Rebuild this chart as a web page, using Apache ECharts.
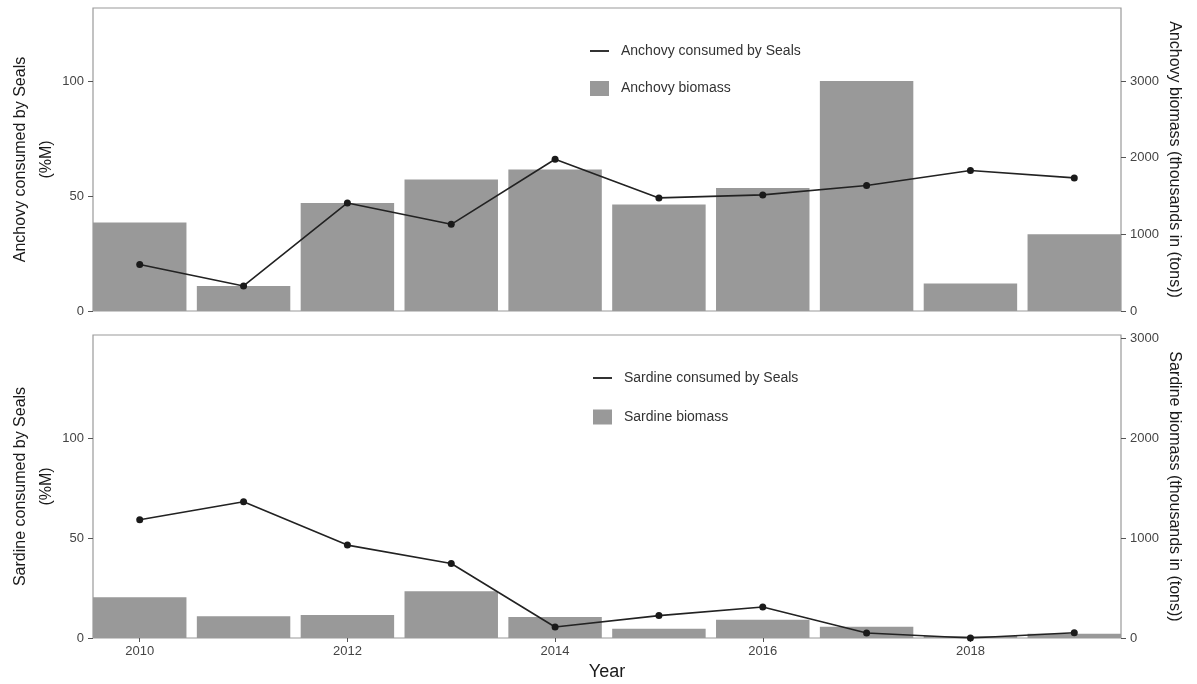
<!DOCTYPE html>
<html>
<head>
<meta charset="utf-8">
<title>Anchovy and sardine: biomass and consumption by seals</title>
<script src="https://cdn.jsdelivr.net/npm/echarts@6/dist/echarts.min.js"></script>
<style>
  html, body { margin: 0; padding: 0; background: #ffffff; }
  #chart { width: 1197px; height: 684px; }
</style>
</head>
<body>
<div id="chart"></div>
<script>
// Years on the shared x axis
const years = [2010, 2011, 2012, 2013, 2014, 2015, 2016, 2017, 2018, 2019];
const yearTicks = [2010, 2012, 2014, 2016, 2018];

// Anchovy: share consumed by seals (%M) and biomass (thousands of tons)
const anchovyConsumed = [20.2, 10.9, 47.0, 37.7, 66.0, 49.2, 50.5, 54.6, 61.1, 57.9];
const anchovyBiomass = [1155, 326, 1410, 1716, 1846, 1390, 1606, 3000, 358, 1000];

// Sardine: share consumed by seals (%M) and biomass (thousands of tons)
const sardineConsumed = [59.2, 68.2, 46.5, 37.3, 5.5, 11.2, 15.5, 2.5, 0, 2.6];
const sardineBiomass = [407, 217, 230, 467, 210, 93, 183, 113, 20, 43];

// Tick labels
const pctTicks = [0, 50, 100];
const biomassTicks = [0, 1000, 2000, 3000];

const FONT = '"Liberation Sans", Arial, Helvetica, sans-serif';
const BAR_COLOR = '#999999';
const LINE_COLOR = '#1a1a1a';
const LABEL_COLOR = '#444444';
const TITLE_COLOR = '#1a1a1a';

const pairs = (xs, ys) => xs.map((x, i) => [x, ys[i]]);
const plain = (v) => String(Math.round(v));

function xAxisFor(gridIndex, showLabels) {
  return {
    type: 'value',
    gridIndex: gridIndex,
    min: 2009.55,
    max: 2019.45,
    splitLine: { show: false },
    axisLine: { show: false },
    axisTick: {
      show: showLabels,
      length: 4,
      customValues: yearTicks,
      lineStyle: { color: '#555555', width: 1 }
    },
    axisLabel: {
      show: showLabels,
      customValues: yearTicks,
      formatter: plain,
      margin: 7,
      color: LABEL_COLOR,
      fontFamily: FONT,
      fontSize: 13
    },
    name: showLabels ? 'Year' : '',
    nameLocation: 'middle',
    nameGap: 25,
    nameMoveOverlap: false,
    nameTextStyle: { color: TITLE_COLOR, fontFamily: FONT, fontSize: 18 }
  };
}

function yAxisFor(gridIndex, side, max, ticks, name) {
  const left = side === 'left';
  return {
    type: 'value',
    gridIndex: gridIndex,
    position: side,
    min: 0,
    max: max,
    splitLine: { show: false },
    axisLine: { show: false },
    axisTick: {
      show: true,
      length: 5,
      customValues: ticks,
      lineStyle: { color: '#555555', width: 1 }
    },
    axisLabel: {
      customValues: ticks,
      formatter: plain,
      margin: 9,
      color: LABEL_COLOR,
      fontFamily: FONT,
      fontSize: 13
    },
    name: name,
    nameLocation: 'middle',
    nameRotate: left ? 90 : -90,
    nameGap: left ? 33 : 40,
    nameMoveOverlap: false,
    nameTextStyle: {
      color: TITLE_COLOR,
      fontFamily: FONT,
      fontSize: 16,
      lineHeight: 26,
      align: 'center'
    }
  };
}

function legendFor(top, left, lineName, barName, gap) {
  return {
    orient: 'vertical',
    left: left,
    top: top,
    padding: 0,
    itemWidth: 19,
    itemHeight: 15,
    itemGap: gap,
    selectedMode: false,
    textStyle: {
      color: '#333333',
      fontFamily: FONT,
      fontSize: 14,
      padding: [0, 0, 0, 7]
    },
    data: [
      { name: lineName, icon: 'path://M0,0L19,0L19,2L0,2Z', itemStyle: { color: '#333333' } },
      { name: barName, icon: 'rect', itemStyle: { color: BAR_COLOR } }
    ]
  };
}

function barSeries(name, xi, yi, values) {
  return {
    name: name,
    type: 'bar',
    xAxisIndex: xi,
    yAxisIndex: yi,
    barWidth: '90%',
    itemStyle: { color: BAR_COLOR },
    data: pairs(years, values),
    z: 2
  };
}

function lineSeries(name, xi, yi, values) {
  return {
    name: name,
    type: 'line',
    xAxisIndex: xi,
    yAxisIndex: yi,
    symbol: 'circle',
    symbolSize: 7,
    showSymbol: true,
    itemStyle: { color: LINE_COLOR },
    lineStyle: { color: '#222222', width: 1.6 },
    data: pairs(years, values),
    z: 5
  };
}

const chart = echarts.init(document.getElementById('chart'), null, { renderer: 'canvas' });

const gridBase = {
  left: 93, right: 76, height: 303,
  show: true, borderColor: '#9a9a9a', borderWidth: 1.2, backgroundColor: '#ffffff',
  containLabel: false, outerBoundsMode: 'none'
};

chart.setOption({
  animation: false,
  backgroundColor: '#ffffff',
  grid: [
    Object.assign({}, gridBase, { top: 8 }),
    Object.assign({}, gridBase, { top: 335 })
  ],
  legend: [
    legendFor(44, 590, 'Anchovy consumed by Seals', 'Anchovy biomass', 23),
    legendFor(371, 593, 'Sardine consumed by Seals', 'Sardine biomass', 24.5)
  ],
  xAxis: [xAxisFor(0, false), xAxisFor(1, true)],
  yAxis: [
    yAxisFor(0, 'left', 131.8, pctTicks, 'Anchovy consumed by Seals\n(%M)'),
    yAxisFor(0, 'right', 3954, biomassTicks, 'Anchovy biomass (thousands in (tons))'),
    yAxisFor(1, 'left', 151.65, pctTicks, 'Sardine consumed by Seals\n(%M)'),
    yAxisFor(1, 'right', 3033, biomassTicks, 'Sardine biomass (thousands in (tons))')
  ],
  series: [
    barSeries('Anchovy biomass', 0, 1, anchovyBiomass),
    lineSeries('Anchovy consumed by Seals', 0, 0, anchovyConsumed),
    barSeries('Sardine biomass', 1, 3, sardineBiomass),
    lineSeries('Sardine consumed by Seals', 1, 2, sardineConsumed)
  ]
});
</script>
</body>
</html>
